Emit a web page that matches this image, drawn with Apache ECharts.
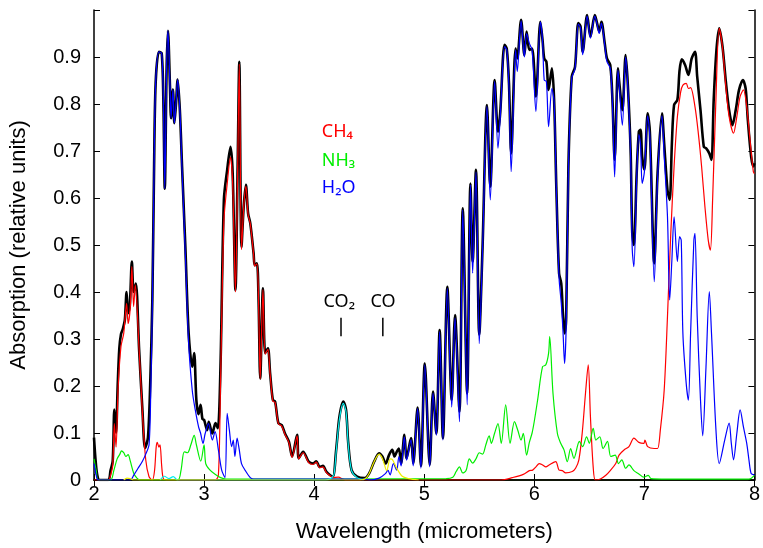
<!DOCTYPE html>
<html>
<head>
<meta charset="utf-8">
<script src="https://cdn.jsdelivr.net/npm/echarts@6/dist/echarts.min.js"></script>
<style>
  html, body { margin: 0; padding: 0; background: #fff; }
  #chart { width: 763px; height: 548px; }
</style>
</head>
<body>
<div id="chart"></div>
<script>
// spectra: [wavelength (um), absorption]
var total = [[2.00,0.09],[2.015,0.04],[2.03,0.01],[2.05,0],[2.13,0],[2.15,0.02],[2.17,0.04],[2.185,0.15],[2.20,0.10],[2.215,0.20],[2.23,0.28],[2.245,0.31],[2.26,0.32],[2.28,0.34],[2.296,0.40],[2.31,0.355],[2.325,0.37],[2.344,0.465],[2.36,0.40],[2.38,0.418],[2.41,0.277],[2.44,0.149],[2.464,0.068],[2.49,0.09],[2.51,0.2],[2.53,0.383],[2.545,0.65],[2.56,0.844],[2.59,0.911],[2.615,0.908],[2.63,0.809],[2.643,0.62],[2.66,0.879],[2.672,0.956],[2.69,0.84],[2.70,0.77],[2.717,0.831],[2.73,0.759],[2.745,0.80],[2.76,0.852],[2.78,0.787],[2.80,0.667],[2.83,0.496],[2.86,0.312],[2.893,0.241],[2.91,0.27],[2.93,0.17],[2.95,0.14],[2.968,0.16],[2.985,0.13],[3.0,0.128],[3.028,0.106],[3.043,0.124],[3.074,0.099],[3.104,0.121],[3.125,0.11],[3.149,0.241],[3.18,0.596],[3.21,0.66],[3.24,0.709],[3.26,0.652],[3.285,0.404],[3.305,0.667],[3.32,0.89],[3.34,0.496],[3.36,0.582],[3.38,0.628],[3.40,0.567],[3.42,0.546],[3.45,0.482],[3.46,0.457],[3.48,0.461],[3.495,0.383],[3.51,0.216],[3.535,0.408],[3.555,0.27],[3.58,0.28],[3.60,0.227],[3.625,0.17],[3.645,0.167],[3.675,0.121],[3.705,0.117],[3.735,0.099],[3.77,0.082],[3.80,0.05],[3.845,0.096],[3.86,0.046],[3.90,0.06],[3.95,0.039],[3.99,0.035],[4.02,0.04],[4.05,0.028],[4.08,0.03],[4.11,0.018],[4.14,0.011],[4.17,0.007],[4.20,0.064],[4.23,0.135],[4.265,0.167],[4.29,0.149],[4.31,0.078],[4.34,0.021],[4.39,0.007],[4.46,0.004],[4.50,0.014],[4.545,0.039],[4.59,0.057],[4.62,0.05],[4.65,0.035],[4.68,0.053],[4.71,0.064],[4.73,0.05],[4.75,0.06],[4.77,0.067],[4.79,0.035],[4.82,0.096],[4.84,0.046],[4.88,0.089],[4.90,0.035],[4.94,0.154],[4.97,0.03],[5.005,0.248],[5.05,0.032],[5.08,0.188],[5.11,0.099],[5.14,0.319],[5.17,0.089],[5.21,0.411],[5.25,0.17],[5.28,0.351],[5.32,0.145],[5.35,0.578],[5.39,0.184],[5.42,0.631],[5.44,0.465],[5.47,0.66],[5.50,0.309],[5.53,0.496],[5.57,0.798],[5.60,0.624],[5.64,0.851],[5.67,0.741],[5.69,0.78],[5.73,0.926],[5.75,0.918],[5.77,0.844],[5.79,0.695],[5.83,0.918],[5.845,0.897],[5.88,0.979],[5.91,0.904],[5.93,0.954],[5.955,0.915],[5.98,0.918],[6.015,0.816],[6.055,0.975],[6.075,0.936],[6.09,0.897],[6.11,0.89],[6.13,0.83],[6.16,0.876],[6.18,0.809],[6.20,0.624],[6.225,0.44],[6.245,0.418],[6.26,0.355],[6.275,0.312],[6.29,0.348],[6.31,0.667],[6.34,0.858],[6.37,0.879],[6.40,0.972],[6.42,0.965],[6.44,0.911],[6.48,0.989],[6.51,0.943],[6.55,0.989],[6.57,0.972],[6.59,0.954],[6.61,0.975],[6.64,0.929],[6.66,0.897],[6.69,0.883],[6.71,0.809],[6.73,0.681],[6.76,0.876],[6.77,0.851],[6.80,0.787],[6.83,0.904],[6.85,0.84],[6.875,0.702],[6.89,0.525],[6.905,0.5],[6.93,0.652],[6.95,0.741],[6.965,0.745],[6.98,0.688],[7.0,0.66],[7.03,0.78],[7.05,0.741],[7.09,0.461],[7.12,0.652],[7.16,0.78],[7.18,0.716],[7.21,0.617],[7.23,0.596],[7.25,0.716],[7.27,0.798],[7.30,0.809],[7.32,0.872],[7.34,0.895],[7.37,0.883],[7.40,0.862],[7.43,0.897],[7.46,0.911],[7.48,0.858],[7.51,0.787],[7.54,0.709],[7.56,0.706],[7.59,0.695],[7.61,0.681],[7.63,0.809],[7.655,0.915],[7.68,0.961],[7.71,0.922],[7.74,0.848],[7.77,0.787],[7.80,0.755],[7.83,0.787],[7.86,0.83],[7.895,0.851],[7.92,0.833],[7.94,0.766],[7.97,0.688],[7.99,0.667],[8.0,0.674]];

var ch4 = [[2.0,0],[2.13,0],[2.15,0.01],[2.17,0.03],[2.185,0.12],[2.20,0.07],[2.22,0.2],[2.245,0.284],[2.27,0.312],[2.296,0.376],[2.31,0.333],[2.33,0.369],[2.344,0.454],[2.36,0.369],[2.375,0.415],[2.41,0.277],[2.44,0.142],[2.47,0.043],[2.50,0.007],[2.53,0],[2.55,0.02],[2.565,0.07],[2.575,0.08],[2.59,0.07],[2.60,0.075],[2.615,0.03],[2.63,0.003],[2.66,0],[3.10,0],[3.13,0.01],[3.149,0.2],[3.18,0.55],[3.21,0.63],[3.24,0.687],[3.26,0.63],[3.285,0.4],[3.305,0.66],[3.32,0.885],[3.34,0.49],[3.36,0.58],[3.38,0.625],[3.40,0.565],[3.42,0.545],[3.45,0.48],[3.46,0.455],[3.48,0.46],[3.495,0.38],[3.51,0.215],[3.535,0.405],[3.555,0.268],[3.58,0.278],[3.60,0.225],[3.625,0.168],[3.645,0.165],[3.675,0.12],[3.705,0.115],[3.735,0.097],[3.77,0.08],[3.80,0.048],[3.845,0.094],[3.86,0.045],[3.90,0.058],[3.95,0.037],[3.99,0.033],[4.02,0.038],[4.05,0.026],[4.08,0.028],[4.11,0.016],[4.14,0.01],[4.17,0.005],[4.22,0.006],[4.26,0.002],[4.3,0],[5.7,0],[5.8,0.005],[5.9,0.012],[5.955,0.02],[5.985,0.021],[6.015,0.028],[6.045,0.035],[6.075,0.032],[6.105,0.028],[6.135,0.032],[6.195,0.039],[6.225,0.021],[6.255,0.02],[6.285,0.015],[6.345,0.018],[6.375,0.025],[6.405,0.043],[6.435,0.099],[6.465,0.184],[6.49,0.245],[6.51,0.135],[6.535,0.028],[6.555,0],[6.60,0.002],[6.65,0.01],[6.69,0.02],[6.74,0.035],[6.77,0.053],[6.815,0.064],[6.86,0.071],[6.905,0.089],[6.95,0.08],[6.995,0.078],[7.005,0.085],[7.03,0.071],[7.09,0.067],[7.12,0.067],[7.145,0.106],[7.18,0.191],[7.21,0.348],[7.24,0.525],[7.27,0.667],[7.30,0.773],[7.33,0.826],[7.35,0.84],[7.38,0.844],[7.40,0.833],[7.42,0.835],[7.46,0.794],[7.49,0.738],[7.52,0.667],[7.55,0.582],[7.58,0.511],[7.60,0.489],[7.62,0.596],[7.65,0.809],[7.68,0.961],[7.71,0.92],[7.74,0.837],[7.77,0.773],[7.81,0.738],[7.84,0.773],[7.87,0.816],[7.90,0.83],[7.93,0.794],[7.96,0.723],[7.99,0.656],[8.0,0.652]];

var nh3 = [[2.0,0.045],[2.02,0.02],[2.04,0],[2.15,0],[2.18,0.02],[2.21,0.045],[2.235,0.055],[2.25,0.062],[2.27,0.058],[2.29,0.05],[2.31,0.054],[2.33,0.04],[2.36,0.015],[2.39,0.004],[2.42,0],[2.76,0],[2.79,0.02],[2.82,0.06],[2.85,0.058],[2.88,0.075],[2.91,0.095],[2.93,0.075],[2.97,0.04],[3.0,0.075],[3.015,0.035],[3.05,0.022],[3.1,0.012],[3.15,0.005],[3.2,0.002],[5.2,0.003],[5.26,0.006],[5.29,0.018],[5.32,0.028],[5.35,0.015],[5.38,0.02],[5.41,0.045],[5.44,0.036],[5.47,0.045],[5.50,0.058],[5.53,0.055],[5.56,0.075],[5.59,0.094],[5.61,0.078],[5.64,0.1],[5.67,0.12],[5.70,0.078],[5.74,0.16],[5.78,0.078],[5.82,0.124],[5.85,0.106],[5.88,0.085],[5.90,0.099],[5.93,0.053],[5.955,0.08],[5.98,0.1],[6.0,0.125],[6.03,0.17],[6.075,0.241],[6.105,0.245],[6.13,0.27],[6.14,0.305],[6.17,0.184],[6.21,0.099],[6.24,0.078],[6.27,0.064],[6.30,0.039],[6.33,0.067],[6.36,0.046],[6.41,0.082],[6.44,0.071],[6.475,0.092],[6.50,0.078],[6.535,0.11],[6.56,0.085],[6.595,0.092],[6.625,0.067],[6.665,0.082],[6.695,0.05],[6.735,0.053],[6.765,0.035],[6.795,0.043],[6.83,0.025],[6.86,0.032],[6.905,0.02],[6.95,0.013],[6.995,0.006],[7.035,0.01],[7.06,0.003],[7.2,0.002],[7.95,0.002],[8.0,0.01]];

var h2o = [[2.00,0.035],[2.02,0.01],[2.04,0],[2.33,0],[2.36,0.01],[2.40,0.025],[2.44,0.04],[2.47,0.055],[2.50,0.075],[2.515,0.18],[2.53,0.37],[2.545,0.65],[2.56,0.844],[2.59,0.911],[2.615,0.908],[2.63,0.809],[2.643,0.62],[2.66,0.879],[2.672,0.956],[2.69,0.84],[2.70,0.77],[2.717,0.831],[2.73,0.759],[2.745,0.80],[2.76,0.852],[2.78,0.787],[2.80,0.66],[2.83,0.48],[2.86,0.29],[2.893,0.19],[2.92,0.149],[2.95,0.113],[2.968,0.1],[2.99,0.078],[3.01,0.099],[3.04,0.12],[3.075,0.085],[3.10,0.103],[3.13,0.064],[3.16,0.021],[3.19,0.005],[3.21,0.142],[3.23,0.106],[3.25,0.071],[3.265,0.085],[3.28,0.05],[3.30,0.089],[3.32,0.064],[3.34,0.035],[3.375,0.02],[3.42,0.005],[3.45,0.002],[4.45,0.002],[4.5,0.0],[4.59,0.004],[4.65,0.014],[4.67,0.021],[4.69,0.011],[4.72,0.035],[4.75,0.021],[4.77,0.05],[4.79,0.03],[4.82,0.092],[4.84,0.042],[4.88,0.086],[4.90,0.03],[4.94,0.152],[4.97,0.025],[5.005,0.245],[5.05,0.028],[5.08,0.185],[5.11,0.095],[5.14,0.316],[5.17,0.085],[5.21,0.408],[5.25,0.155],[5.28,0.345],[5.32,0.124],[5.35,0.575],[5.39,0.16],[5.42,0.628],[5.44,0.44],[5.47,0.655],[5.50,0.29],[5.53,0.49],[5.57,0.795],[5.60,0.596],[5.64,0.848],[5.67,0.706],[5.69,0.77],[5.73,0.922],[5.75,0.915],[5.77,0.835],[5.79,0.656],[5.83,0.915],[5.845,0.869],[5.88,0.977],[5.91,0.9],[5.93,0.95],[5.955,0.929],[5.98,0.915],[6.015,0.784],[6.055,0.975],[6.075,0.936],[6.09,0.851],[6.11,0.848],[6.13,0.752],[6.16,0.833],[6.18,0.805],[6.20,0.62],[6.225,0.43],[6.245,0.376],[6.26,0.32],[6.275,0.248],[6.29,0.33],[6.31,0.66],[6.34,0.855],[6.37,0.875],[6.40,0.97],[6.42,0.962],[6.44,0.905],[6.48,0.987],[6.51,0.94],[6.55,0.987],[6.57,0.97],[6.59,0.95],[6.61,0.972],[6.64,0.925],[6.66,0.89],[6.69,0.876],[6.71,0.8],[6.73,0.645],[6.76,0.872],[6.77,0.845],[6.80,0.755],[6.83,0.9],[6.85,0.835],[6.875,0.69],[6.89,0.49],[6.905,0.454],[6.93,0.64],[6.95,0.735],[6.965,0.716],[6.98,0.631],[7.0,0.655],[7.03,0.775],[7.05,0.73],[7.09,0.422],[7.12,0.64],[7.16,0.775],[7.18,0.69],[7.21,0.56],[7.23,0.383],[7.25,0.468],[7.27,0.56],[7.30,0.465],[7.32,0.518],[7.335,0.51],[7.35,0.312],[7.38,0.206],[7.40,0.17],[7.42,0.312],[7.45,0.511],[7.46,0.525],[7.48,0.348],[7.51,0.17],[7.53,0.094],[7.56,0.241],[7.59,0.401],[7.61,0.312],[7.65,0.108],[7.68,0.035],[7.73,0.085],[7.77,0.121],[7.79,0.078],[7.81,0.043],[7.84,0.099],[7.87,0.149],[7.90,0.113],[7.93,0.078],[7.95,0.043],[7.97,0.014],[8.0,0.011]];

var co2 = [[2.6,0],[2.64,0.008],[2.68,0.003],[2.72,0.007],[2.76,0],[4.1,0],[4.15,0.003],[4.18,0.012],[4.20,0.06],[4.23,0.13],[4.265,0.163],[4.29,0.145],[4.31,0.075],[4.34,0.02],[4.39,0.005],[4.45,0]];

var co = [[2.27,0],[2.3,0.004],[2.33,0.003],[2.36,0],[4.4,0],[4.46,0.002],[4.50,0.014],[4.545,0.039],[4.59,0.055],[4.62,0.046],[4.66,0.02],[4.69,0.045],[4.71,0.044],[4.75,0.025],[4.80,0.008],[4.86,0.003],[4.95,0]];

var FONT = 'Liberation Sans';
var myChart = echarts.init(document.getElementById('chart'));

function line(name, data, color, width) {
  return {
    name: name,
    type: 'line',
    data: data,
    showSymbol: false,
    smooth: 0.3,
    clip: true,
    lineStyle: { color: color, width: width },
    emphasis: { disabled: true }
  };
}

var option = {
  animation: false,
  backgroundColor: '#fff',
  grid: { left: 93, right: 7, top: 10, bottom: 68 },
  xAxis: [{
    type: 'value', min: 2, max: 8, interval: 1, position: 'bottom',
    axisLine: { lineStyle: { color: '#3d5520', width: 2 } },
    axisTick: { inside: true, length: 6, lineStyle: { color: '#000' } },
    axisLabel: { fontSize: 20, color: '#000', margin: 4, fontFamily: FONT },
    splitLine: { show: false },
    name: 'Wavelength (micrometers)', nameLocation: 'middle', nameGap: 41,
    nameTextStyle: { fontSize: 22, color: '#000', fontFamily: FONT }
  }, {
    type: 'value', min: 2, max: 8, interval: 1, position: 'top',
    axisLine: { lineStyle: { color: '#000', width: 1.5 } },
    axisTick: { inside: true, length: 6, lineStyle: { color: '#000' } },
    axisLabel: { show: false }, splitLine: { show: false }
  }],
  yAxis: [{
    type: 'value', min: 0, max: 1, interval: 0.1, position: 'left',
    axisLine: { show: true, lineStyle: { color: '#000', width: 1.5 } },
    axisTick: { show: true, inside: true, length: 6, lineStyle: { color: '#000' } },
    axisLabel: {
      fontSize: 20, color: '#000', margin: 13, fontFamily: FONT,
      formatter: function (v) { return v >= 1 ? '' : String(+v.toFixed(1)); }
    },
    splitLine: { show: false },
    name: 'Absorption (relative units)', nameLocation: 'middle', nameGap: 64,
    nameTextStyle: { fontSize: 22, color: '#000', fontFamily: FONT }
  }, {
    type: 'value', min: 0, max: 1, interval: 0.1, position: 'right',
    axisLine: { show: true, lineStyle: { color: '#000', width: 1.5 } },
    axisTick: { show: true, inside: true, length: 6, lineStyle: { color: '#000' } },
    axisLabel: { show: false }, splitLine: { show: false }
  }],
  series: [
    line('total', total, '#000000', 2.6),
    line('CH4', ch4, '#ff0000', 1.2),
    line('NH3', nh3, '#00ee00', 1.2),
    line('H2O', h2o, '#0000ff', 1.2),
    line('CO2', co2, '#00eeee', 1.2),
    line('CO', co, '#eeee00', 1.2)
  ]
};
myChart.setOption(option);

// labels placed in data coordinates
var notes = [
  { text: 'CH₄', at: [4.07, 0.74], color: '#ff0000', align: 'left' },
  { text: 'NH₃', at: [4.07, 0.68], color: '#00ee00', align: 'left' },
  { text: 'H₂O', at: [4.07, 0.621], color: '#0000ff', align: 'left' },
  { text: 'CO₂', at: [4.228, 0.379], color: '#000', align: 'center' },
  { text: 'CO', at: [4.625, 0.379], color: '#000', align: 'center' }
];
var bars = [4.244, 4.624];
var graphics = [];
notes.forEach(function (n) {
  var p = myChart.convertToPixel({ gridIndex: 0 }, n.at);
  graphics.push({
    type: 'text', x: p[0], y: p[1],
    style: { text: n.text, fill: n.color, font: '18px "Noto Sans"', align: n.align, verticalAlign: 'middle' }
  });
});
bars.forEach(function (b) {
  var p1 = myChart.convertToPixel({ gridIndex: 0 }, [b, 0.345]);
  var p2 = myChart.convertToPixel({ gridIndex: 0 }, [b, 0.306]);
  graphics.push({
    type: 'line', shape: { x1: p1[0], y1: p1[1], x2: p2[0], y2: p2[1] },
    style: { stroke: '#000', lineWidth: 1.5 }
  });
});
myChart.setOption({ graphic: graphics });

window.addEventListener('resize', function () {
  myChart.resize();
});
</script>
</body>
</html>
